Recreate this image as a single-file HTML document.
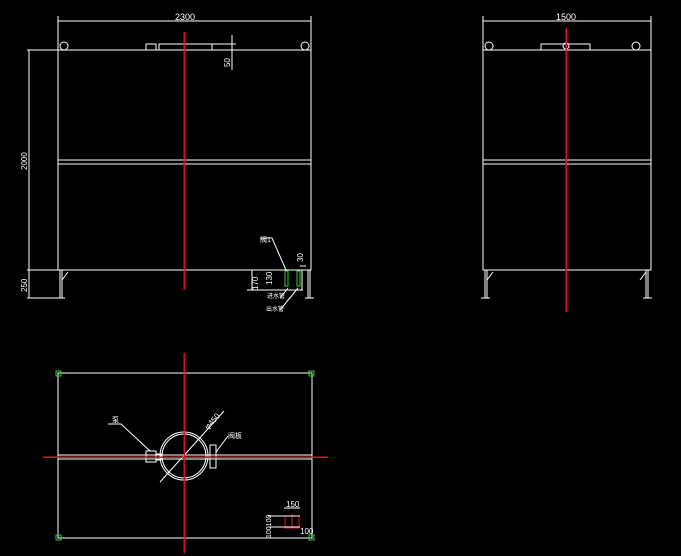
<!DOCTYPE html>
<html><head><style>html,body{margin:0;padding:0;background:#000;width:681px;height:556px;overflow:hidden}</style></head><body>
<svg width="681" height="556" xmlns="http://www.w3.org/2000/svg" font-family="Liberation Sans, sans-serif" fill="none" stroke="#fff" stroke-width="1" shape-rendering="crispEdges">
<!-- Left elevation -->
<line x1="58" y1="21" x2="311" y2="21"/>
<line x1="58" y1="16" x2="58" y2="50"/><line x1="311" y1="16" x2="311" y2="50"/>
<text x="185" y="20" fill="#fff" stroke="none" font-size="9" text-anchor="middle">2300</text>
<rect x="58" y="50" width="253" height="220"/>
<line x1="27" y1="50" x2="58" y2="50"/>
<line x1="58" y1="160" x2="311" y2="160"/><line x1="58" y1="164" x2="311" y2="164"/>
<circle cx="64" cy="46" r="4" shape-rendering="auto"/><circle cx="305" cy="46" r="4" shape-rendering="auto"/>
<rect x="146" y="44" width="10" height="6"/><rect x="159" y="44" width="53" height="6"/>
<line x1="212" y1="44" x2="236" y2="44"/><line x1="232" y1="35" x2="232" y2="70"/>
<text transform="translate(230,67) rotate(-90)" fill="#fff" stroke="none" font-size="8">50</text>
<line x1="29" y1="50" x2="29" y2="298"/><line x1="27" y1="270" x2="58" y2="270"/><line x1="27" y1="298" x2="62" y2="298"/>
<text transform="translate(27,170) rotate(-90)" fill="#fff" stroke="none" font-size="8">2000</text>
<text transform="translate(27,292) rotate(-90)" fill="#fff" stroke="none" font-size="8">250</text>
<line x1="60" y1="270" x2="60" y2="298"/><line x1="62" y1="270" x2="62" y2="298"/><line x1="56" y1="298" x2="65" y2="298"/>
<line x1="62" y1="280" x2="68" y2="272" shape-rendering="auto"/>
<line x1="308" y1="270" x2="308" y2="298"/><line x1="310" y1="270" x2="310" y2="298"/><line x1="305" y1="298" x2="314" y2="298"/>
<rect x="252" y="270" width="50" height="20"/><line x1="247" y1="290" x2="303" y2="290"/>
<text transform="translate(258,290) rotate(-90)" fill="#fff" stroke="none" font-size="8">170</text>
<text transform="translate(272,285) rotate(-90)" fill="#fff" stroke="none" font-size="8">130</text>
<rect x="285" y="271" width="3" height="15" stroke="#3c3"/><rect x="297" y="271" width="3" height="15" stroke="#3c3"/>
<polyline points="260,238 272,238 286,270" shape-rendering="auto"/><text x="260" y="242" fill="#fff" stroke="none" font-size="7">阀1</text>
<line x1="288" y1="288" x2="280" y2="298" shape-rendering="auto"/><line x1="298" y1="288" x2="280" y2="310" shape-rendering="auto"/>
<text x="267" y="298" fill="#fff" stroke="none" font-size="6">进水管</text>
<text x="266" y="311" fill="#fff" stroke="none" font-size="6">出水管</text>
<text transform="translate(303,262) rotate(-90)" fill="#fff" stroke="none" font-size="8">30</text>
<line x1="300" y1="266" x2="306" y2="266"/>
<line x1="184" y1="32" x2="184" y2="290" stroke="#e0102a" stroke-width="1.5"/>
<!-- Right elevation -->
<line x1="483" y1="21" x2="651" y2="21"/>
<line x1="483" y1="16" x2="483" y2="50"/><line x1="651" y1="16" x2="651" y2="50"/>
<text x="566" y="20" fill="#fff" stroke="none" font-size="9" text-anchor="middle">1500</text>
<rect x="483" y="50" width="168" height="220"/>
<line x1="483" y1="160" x2="651" y2="160"/><line x1="483" y1="164" x2="651" y2="164"/>
<circle cx="489" cy="46" r="4" shape-rendering="auto"/><circle cx="636" cy="46" r="4" shape-rendering="auto"/><circle cx="566" cy="46" r="3" shape-rendering="auto"/>
<rect x="541" y="44" width="49" height="6"/>
<line x1="485" y1="270" x2="485" y2="298"/><line x1="487" y1="270" x2="487" y2="298"/><line x1="481" y1="298" x2="490" y2="298"/>
<line x1="487" y1="280" x2="493" y2="272" shape-rendering="auto"/>
<line x1="646" y1="270" x2="646" y2="298"/><line x1="648" y1="270" x2="648" y2="298"/><line x1="643" y1="298" x2="652" y2="298"/>
<line x1="640" y1="280" x2="646" y2="272" shape-rendering="auto"/>
<line x1="566" y1="28" x2="566" y2="312" stroke="#e0102a" stroke-width="1.5"/>
<!-- Plan -->
<rect x="58" y="373" width="254" height="165"/>
<g stroke="#3c3"><rect x="56" y="371" width="5" height="5"/><rect x="309" y="371" width="5" height="5"/><rect x="56" y="535" width="5" height="5"/><rect x="309" y="535" width="5" height="5"/></g>
<line x1="58" y1="455" x2="312" y2="455"/><line x1="58" y1="459" x2="312" y2="459"/>
<g shape-rendering="auto"><circle cx="184" cy="456" r="24"/><circle cx="184" cy="456" r="22"/>
<line x1="160" y1="482" x2="224" y2="411"/>
<polyline points="108,424 121,424 150,451"/>
<line x1="216" y1="452" x2="228" y2="436"/></g>
<text transform="translate(208,430) rotate(-48)" fill="#fff" stroke="none" font-size="8">φ450</text>
<rect x="146" y="451" width="10" height="11"/><rect x="156" y="454" width="5" height="6"/>
<text x="112" y="422" fill="#fff" stroke="none" font-size="7">泵</text>
<rect x="210" y="445" width="6" height="23"/>
<text x="228" y="438" fill="#fff" stroke="none" font-size="7">阀板</text>
<line x1="43" y1="457" x2="328" y2="457" stroke="#e0102a" stroke-width="1.5"/>
<line x1="184" y1="353" x2="184" y2="553" stroke="#e0102a" stroke-width="1.5"/>
<rect x="285" y="516" width="14" height="12" stroke="#e0102a"/>
<line x1="292" y1="514" x2="292" y2="528" stroke="#e0102a"/>
<line x1="268" y1="516" x2="300" y2="516"/><line x1="268" y1="527" x2="300" y2="527"/>
<line x1="284" y1="508" x2="300" y2="508"/>
<text x="286" y="507" fill="#fff" stroke="none" font-size="8">150</text>
<text x="300" y="534" fill="#fff" stroke="none" font-size="8">100</text>
<text transform="translate(271,538) rotate(-90)" fill="#fff" stroke="none" font-size="7">100100</text>
</svg>
</body></html>
